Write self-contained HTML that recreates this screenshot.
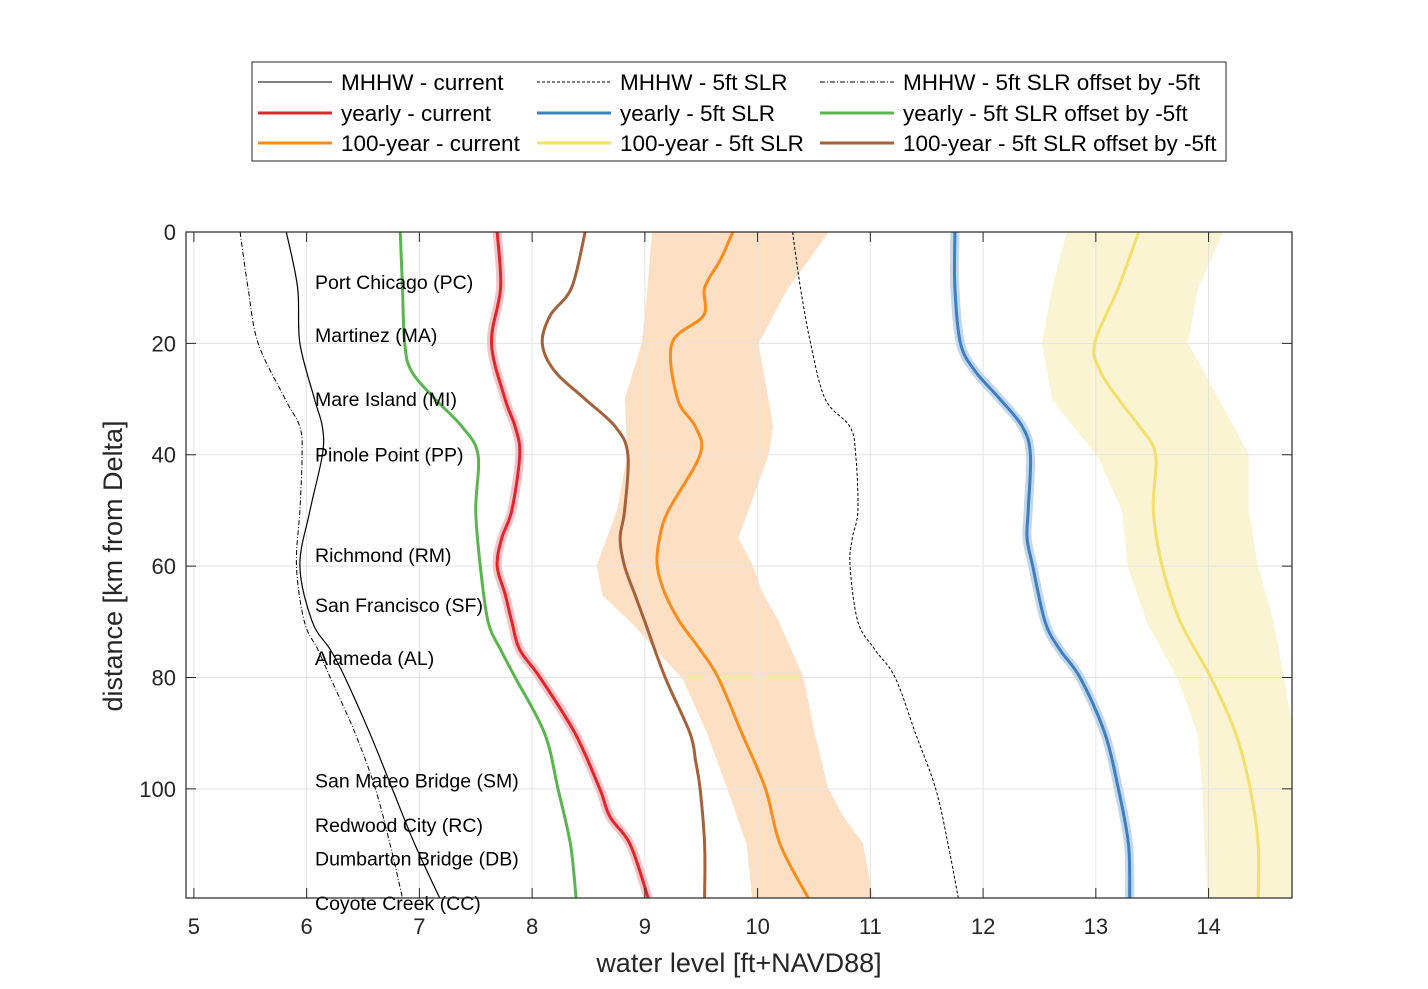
<!DOCTYPE html>
<html><head><meta charset="utf-8"><style>
body{margin:0;background:#fff;}
svg{display:block;font-family:"Liberation Sans",Arial,sans-serif;}
</style></head><body>
<svg id="chart" width="1428" height="989" xmlns="http://www.w3.org/2000/svg">
<rect width="1428" height="989" fill="#fff"/>
<g id="bands"></g>
<g id="grid"></g>
<g id="lines"></g>
<g id="labels"></g>
<g id="axes"></g>
<g id="legend"></g>
</svg>
<script>
// ---- data ----
const xTicks=[5,6,7,8,9,10,11,12,13,14];
const yTicks=[0,20,40,60,80,100];
const stationNames=["Port Chicago (PC)","Martinez (MA)","Mare Island (MI)","Pinole Point (PP)","Richmond (RM)","San Francisco (SF)","Alameda (AL)","San Mateo Bridge (SM)","Redwood City (RC)","Dumbarton Bridge (DB)","Coyote Creek (CC)"];
const stationKm=[9,18.5,30,40,58,67,76.5,98.5,106.5,112.5,120.5];

const mhhwCurKm=[0,10,20,30,35,40,50,60,70,75,80,90,100,110,120];
const mhhwCurVal=[5.82,5.92,5.94,6.07,6.14,6.14,6.03,5.94,6.05,6.21,6.34,6.56,6.76,6.96,7.18];
const mhhwOffKm=[0,10,20,30,35,40,50,60,70,75,80,90,100,110,120];
const mhhwOffVal=[5.41,5.48,5.57,5.81,5.94,5.96,5.94,5.91,5.98,6.10,6.21,6.43,6.61,6.74,6.85];
const mhhwSlrKm=[0,10,20,30,35,40,50,55,60,70,75,80,90,100,110,120];
const mhhwSlrVal=[10.31,10.38,10.47,10.60,10.82,10.87,10.89,10.84,10.82,10.89,11.04,11.22,11.40,11.58,11.69,11.78];

const yearCurKm=[0,10,20,30,35,40,50,55,60,65,70,75,80,90,100,105,110,120];
const yearCurVal=[7.69,7.72,7.64,7.76,7.85,7.89,7.82,7.73,7.69,7.76,7.82,7.89,8.07,8.38,8.60,8.69,8.87,9.03];
const yearSlrKm=[0,10,20,25,30,35,40,50,55,60,70,75,80,90,100,110,120];
const yearSlrVal=[11.75,11.75,11.80,11.93,12.15,12.35,12.42,12.40,12.39,12.44,12.55,12.68,12.86,13.08,13.20,13.29,13.30];
const yearOffKm=[0,10,20,25,30,35,40,50,60,70,75,80,90,100,110,120];
const yearOffVal=[6.83,6.85,6.87,6.93,7.14,7.38,7.52,7.50,7.54,7.61,7.72,7.85,8.11,8.23,8.34,8.39];

const c100CurKm=[0,5,10,15,20,30,35,40,50,55,60,65,70,75,80,90,100,110,120];
const c100CurVal=[9.78,9.67,9.53,9.52,9.24,9.29,9.45,9.49,9.21,9.13,9.11,9.18,9.31,9.49,9.65,9.86,10.07,10.20,10.45];
const c100CurLoKm=[0,10,20,30,40,50,55,60,65,70,75,80,90,100,110,120];
const c100CurLo=[9.09,9.05,9.00,8.85,8.87,8.78,8.69,8.60,8.65,8.91,9.13,9.36,9.58,9.76,9.93,9.98];
const c100CurHiKm=[0,10,20,30,35,40,50,55,60,65,70,80,90,100,105,110,120];
const c100CurHi=[10.60,10.24,9.98,10.07,10.11,10.07,9.89,9.80,9.93,10.02,10.16,10.38,10.48,10.60,10.73,10.91,11.00];

const c100SlrKm=[0,10,20,25,30,35,40,50,60,70,80,90,100,110,120];
const c100SlrVal=[13.38,13.20,12.99,13.04,13.20,13.39,13.53,13.51,13.59,13.75,14.02,14.24,14.37,14.44,14.44];
const c100SlrBandKm=[0,10,20,30,40,50,60,70,80,90,100,110,120];
const c100SlrLo=[12.77,12.64,12.55,12.64,13.04,13.26,13.31,13.48,13.75,13.93,13.97,13.99,14.02];
const c100SlrHi=[14.10,13.88,13.79,14.06,14.33,14.33,14.41,14.55,14.64,14.73,14.74,14.74,14.74];

const c100OffKm=[0,10,15,20,25,30,35,40,50,55,60,65,70,80,90,95,100,110,120];
const c100OffVal=[8.47,8.35,8.16,8.09,8.20,8.47,8.74,8.85,8.82,8.78,8.82,8.91,9.00,9.18,9.40,9.45,9.49,9.53,9.53];

// ---- layout ----
const L=186,R=1292,T=232,B=898;
const xMin=4.93,xMax=14.74,yMin=0,yMax=119.6;
const sx=v=>L+(v-xMin)/(xMax-xMin)*(R-L);
const sy=v=>T+(v-yMin)/(yMax-yMin)*(B-T);
const NS="http://www.w3.org/2000/svg";
function mk(tag,attrs,parent){const e=document.createElementNS(NS,tag);for(const k in attrs)e.setAttribute(k,attrs[k]);parent.appendChild(e);return e;}
function smooth(km,val){
  const p=km.map((k,i)=>[sx(val[i]),sy(Math.min(k,yMax))]);
  let d="M"+p[0][0].toFixed(1)+","+p[0][1].toFixed(1);
  for(let i=0;i<p.length-1;i++){
    const p0=p[Math.max(0,i-1)],p1=p[i],p2=p[i+1],p3=p[Math.min(p.length-1,i+2)];
    const c1=[p1[0]+(p2[0]-p0[0])/6,p1[1]+(p2[1]-p0[1])/6];
    const c2=[p2[0]-(p3[0]-p1[0])/6,p2[1]-(p3[1]-p1[1])/6];
    d+=" C"+c1[0].toFixed(1)+","+c1[1].toFixed(1)+" "+c2[0].toFixed(1)+","+c2[1].toFixed(1)+" "+p2[0].toFixed(1)+","+p2[1].toFixed(1);
  }
  return d;
}

const gB=document.getElementById('bands'),gG=document.getElementById('grid'),gL=document.getElementById('lines'),gT=document.getElementById('labels'),gA=document.getElementById('axes'),gLeg=document.getElementById('legend');

const defs=mk('defs',{},document.getElementById('chart'));
const cp=mk('clipPath',{id:'clip'},defs);mk('rect',{x:L,y:T,width:R-L,height:B-T},cp);
gB.setAttribute('clip-path','url(#clip)');gL.setAttribute('clip-path','url(#clip)');

function band(loKm,lo,hiKm,hi,color,name){
  const p=loKm.map((k,i)=>sx(lo[i])+","+sy(k)).concat(hiKm.map((k,i)=>sx(hi[i])+","+sy(k)).reverse()).join(" ");
  const e=mk('polygon',{points:p,fill:color,stroke:color,'stroke-width':6,'stroke-linejoin':'round'},gB);
  
  
}
band(c100CurLoKm,c100CurLo,c100CurHiKm,c100CurHi,'#fde0c4','band-100yr-current');
band(c100SlrBandKm,c100SlrLo,c100SlrBandKm,c100SlrHi,'#fbf4d2','band-100yr-5ft-slr');

xTicks.forEach(t=>{const e=mk('line',{x1:sx(t),x2:sx(t),y1:T,y2:B,stroke:'#e3e3e3','stroke-width':1},gG);

});
yTicks.forEach(t=>{const e=mk('line',{x1:L,x2:R,y1:sy(t),y2:sy(t),stroke:'#e3e3e3','stroke-width':1},gG);

});

function line(km,val,color,w,dash,name,halo){
  if(halo){const h=mk('path',{d:smooth(km,val),fill:'none',stroke:halo,'stroke-width':9,'stroke-linejoin':'round'},gL);
  
  }
  const e=mk('path',{d:smooth(km,val),fill:'none',stroke:color,'stroke-width':w,'stroke-linejoin':'round'},gL);
  if(dash)e.setAttribute('stroke-dasharray',dash);
  
  
}
line(mhhwCurKm,mhhwCurVal,'#000',1.2,null,'mhhw-current');
line(mhhwOffKm,mhhwOffVal,'#000',1,'5,2,1,2','mhhw-5ft-offset');
line(mhhwSlrKm,mhhwSlrVal,'#000',1,'3,2','mhhw-5ft-slr');
line(yearCurKm,yearCurVal,'#e0262b',3,null,'yearly-current','#f3c4c8');
line(yearSlrKm,yearSlrVal,'#3d7fc0',3,null,'yearly-5ft-slr','#c3d7ea');
line(yearOffKm,yearOffVal,'#5ab54e',3,null,'yearly-5ft-offset');
line(c100CurKm,c100CurVal,'#fb8c1c',3,null,'100yr-current');
line(c100SlrKm,c100SlrVal,'#f3df6c',3,null,'100yr-5ft-slr');
line(c100OffKm,c100OffVal,'#a5613a',3,null,'100yr-5ft-offset');

stationNames.forEach((n,i)=>{const e=mk('text',{x:315,y:sy(stationKm[i])+7,'font-size':19.5,fill:'#000'},gT);e.textContent=n;

});

const fr=mk('rect',{x:L,y:T,width:R-L,height:B-T,fill:'none',stroke:'#262626','stroke-width':1.2},gA);


xTicks.forEach(t=>{
  mk('line',{x1:sx(t),x2:sx(t),y1:B,y2:B-10,stroke:'#262626'},gA);
  mk('line',{x1:sx(t),x2:sx(t),y1:T,y2:T+10,stroke:'#262626'},gA);
  const e=mk('text',{x:sx(t),y:B+36,'font-size':22,'text-anchor':'middle',fill:'#262626'},gA);e.textContent=t;
  
  
});
yTicks.forEach(t=>{
  mk('line',{x1:L,x2:L+10,y1:sy(t),y2:sy(t),stroke:'#262626'},gA);
  mk('line',{x1:R,x2:R-10,y1:sy(t),y2:sy(t),stroke:'#262626'},gA);
  const e=mk('text',{x:L-10,y:sy(t)+8,'font-size':22,'text-anchor':'end',fill:'#262626'},gA);e.textContent=t;
  
  
});
const xt=mk('text',{x:739,y:972,'font-size':27,'text-anchor':'middle',fill:'#262626'},gA);xt.textContent='water level [ft+NAVD88]';


const yt=mk('text',{x:0,y:0,'font-size':27,'text-anchor':'middle',fill:'#262626',transform:'translate(122,566) rotate(-90)'},gA);yt.textContent='distance [km from Delta]';



const lb=mk('rect',{x:252,y:62,width:974,height:99,fill:'#fff',stroke:'#262626','stroke-width':1},gLeg);


const legNames=["MHHW - current","MHHW - 5ft SLR","MHHW - 5ft SLR offset by -5ft","yearly - current","yearly - 5ft SLR","yearly - 5ft SLR offset by -5ft","100-year - current","100-year - 5ft SLR","100-year - 5ft SLR offset by -5ft"];
const legColors=['#000','#000','#000','#e0262b','#3d7fc0','#5ab54e','#fb8c1c','#f3df6c','#a5613a'];
const legDash=[null,'3,2','5,2,1,2',null,null,null,null,null,null];
const colX=[258,537,820],rowY=[82,113,143];
legNames.forEach((n,i)=>{
  const c=i%3,r=Math.floor(i/3);
  const ln=mk('line',{x1:colX[c],x2:colX[c]+74,y1:rowY[r],y2:rowY[r],stroke:legColors[i],'stroke-width':i<3?1:3},gLeg);
  if(legDash[i])ln.setAttribute('stroke-dasharray',legDash[i]);
  
  
  const t=mk('text',{x:colX[c]+83,y:rowY[r]+8,'font-size':22.5,fill:'#000'},gLeg);t.textContent=n;
  
  
});
</script>
</body></html>
